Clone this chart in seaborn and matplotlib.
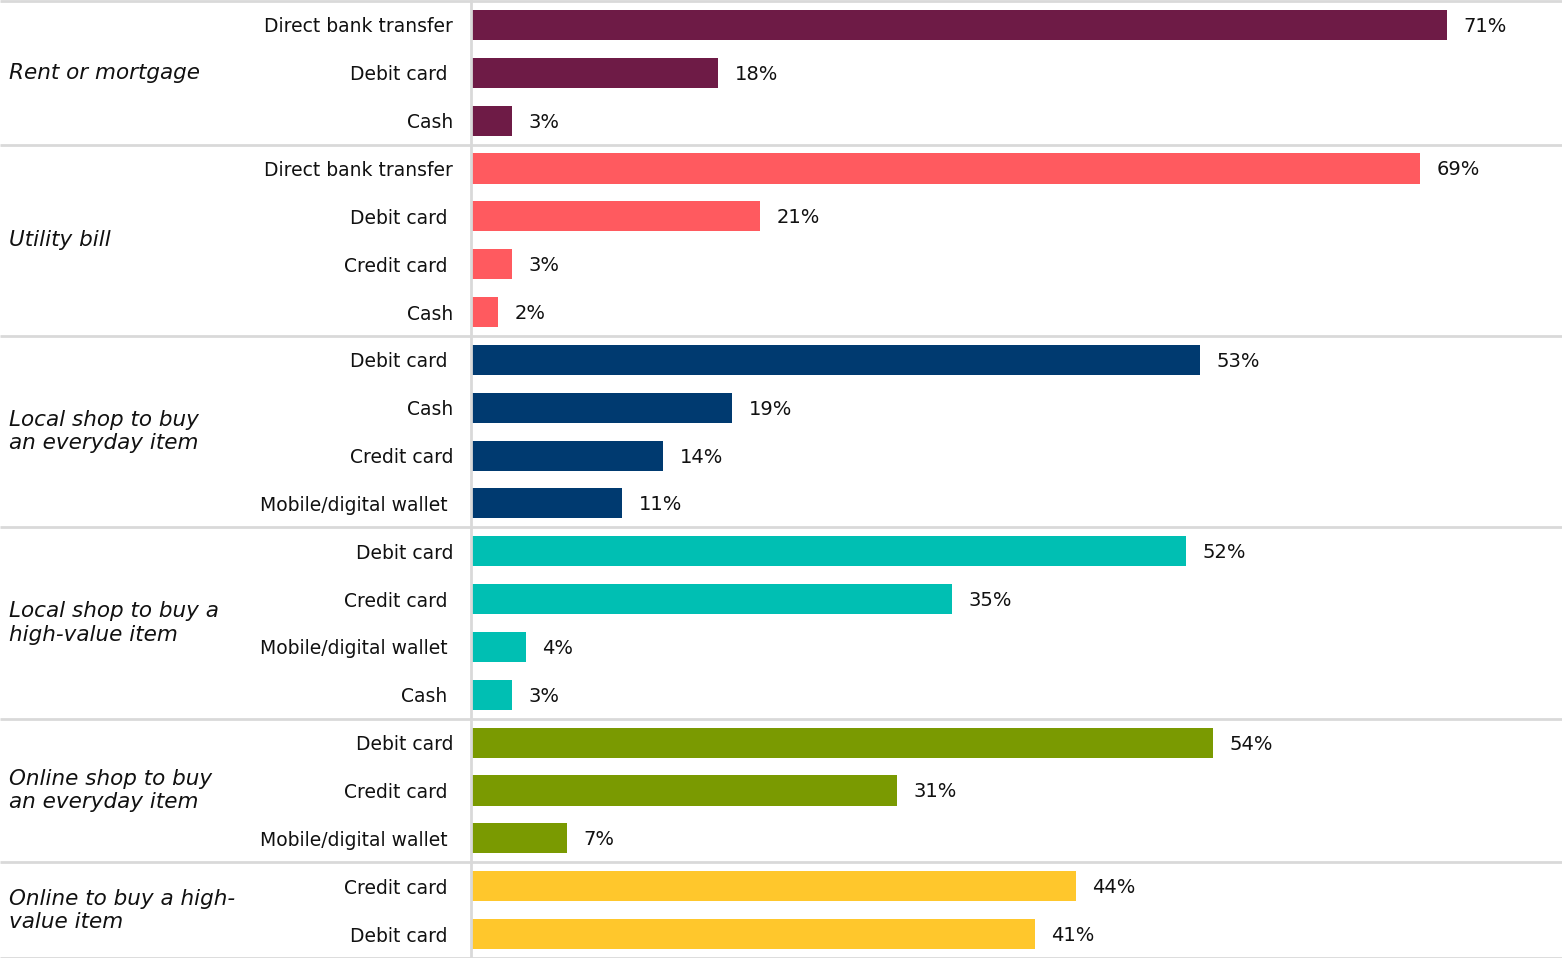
import matplotlib
matplotlib.use("Agg")
import matplotlib.pyplot as plt
import seaborn as sns
import pandas as pd

# Payment method shares by purchase context
groups = [
    "Rent or mortgage",
    "Utility bill",
    "Local shop to buy\nan everyday item",
    "Local shop to buy a\nhigh-value item",
    "Online shop to buy\nan everyday item",
    "Online to buy a high-\nvalue item",
]
rent_methods = ["Direct bank transfer", "Debit card ", "Cash"]
rent_values = [71, 18, 3]
utility_methods = ["Direct bank transfer", "Debit card ", "Credit card ", "Cash"]
utility_values = [69, 21, 3, 2]
local_everyday_methods = ["Debit card ", "Cash", "Credit card", "Mobile/digital wallet "]
local_everyday_values = [53, 19, 14, 11]
local_highvalue_methods = ["Debit card", "Credit card ", "Mobile/digital wallet ", "Cash "]
local_highvalue_values = [52, 35, 4, 3]
online_everyday_methods = ["Debit card", "Credit card ", "Mobile/digital wallet "]
online_everyday_values = [54, 31, 7]
online_highvalue_methods = ["Credit card ", "Debit card "]
online_highvalue_values = [44, 41]

colors = ["#6E1B46", "#FF5A5F", "#003A70", "#00BFB3", "#7A9A01", "#FFC72C"]

methods_by_group = [rent_methods, utility_methods, local_everyday_methods,
                    local_highvalue_methods, online_everyday_methods,
                    online_highvalue_methods]
values_by_group = [rent_values, utility_values, local_everyday_values,
                   local_highvalue_values, online_everyday_values,
                   online_highvalue_values]

rows = []
for g, ms, vs in zip(groups, methods_by_group, values_by_group):
    for m, v in zip(ms, vs):
        rows.append({"group": g, "method": m, "value": v, "row": f"r{len(rows)}"})
df = pd.DataFrame(rows)
n = len(df)

W, H = 1562, 958
fig = plt.figure(figsize=(W / 100, H / 100), dpi=100)
ax_left, ax_right = 471, 1562
ax_top, ax_bottom = 1, 958
ax = fig.add_axes([ax_left / W, 1 - ax_bottom / H, (ax_right - ax_left) / W,
                   (ax_bottom - ax_top) / H])

sns.barplot(data=df, y="row", x="value", hue="group", orient="h", dodge=False,
            palette=dict(zip(groups, colors)), width=0.63, saturation=1,
            legend=False, ax=ax)

ax.set_xlim(0, 79.35)
ax.set_ylim(n - 0.5, -0.5)
ax.set_xlabel("")
ax.set_ylabel("")
ax.set_xticks([])
ax.set_yticks(range(n))
ax.set_yticklabels(df["method"], fontsize=13.5, color="#111111")
ax.tick_params(axis="y", length=0, pad=12.8)
for s in ["top", "right", "bottom"]:
    ax.spines[s].set_visible(False)
ax.spines["left"].set_color("#d9d9d9")
ax.spines["left"].set_linewidth(2)

# value labels
for i, v in enumerate(df["value"]):
    ax.text(v + 1.2, i + 0.03, f"{v}%", va="center", ha="left", fontsize=14,
            color="#111111")

# group separators across the full width, and group titles
x0 = -ax_left / (ax_right - ax_left)
trans = ax.get_yaxis_transform()
start = 0
bounds = [-0.5]
for g, vs in zip(groups, values_by_group):
    end = start + len(vs)
    bounds.append(end - 0.5)
    mid = (start + end - 1) / 2
    ax.text(x0 + 9 / (ax_right - ax_left), mid, g, transform=trans,
            ha="left", va="center", fontsize=15.5, style="italic",
            color="#111111", linespacing=1.2)
    start = end
for b in bounds:
    ax.plot([x0, 1], [b, b], transform=trans, color="#d9d9d9", lw=2,
            clip_on=False, solid_capstyle="butt")

fig.savefig("out.png", dpi=100, facecolor="white")
